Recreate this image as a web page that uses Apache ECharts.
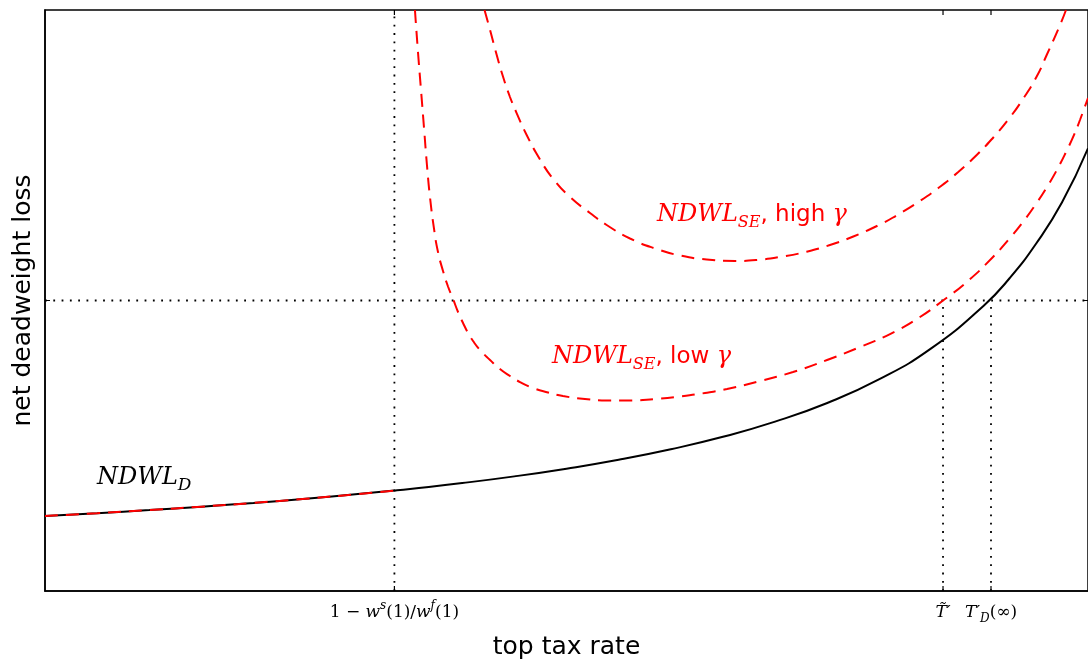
<!DOCTYPE html>
<html>
<head>
<meta charset="utf-8">
<script src="https://cdn.jsdelivr.net/npm/echarts@6/dist/echarts.min.js"></script>
<style>
  html, body { margin: 0; padding: 0; background: #fff; }
  #chart { width: 1088px; height: 664px; }
</style>
</head>
<body>
<div id="chart"></div>
<script>
// values (x = top tax rate, y = net deadweight loss, both on a 0..1 scale)
const blackX = [0, 0.05, 0.10, 0.15, 0.20, 0.25, 0.30, 0.335, 0.35, 0.40, 0.45, 0.50, 0.55, 0.60, 0.65, 0.70, 0.75, 0.80, 0.85, 0.90, 0.925, 0.95, 0.975, 1.0]
const blackY = [0.1291, 0.1340, 0.1393, 0.1452, 0.1516, 0.1588, 0.1668, 0.1729, 0.1757, 0.1858, 0.1973, 0.2106, 0.2259, 0.2440, 0.2654, 0.2915, 0.3236, 0.3645, 0.4180, 0.4911, 0.5387, 0.5973, 0.6685, 0.7620]

const lowX = [0.3547, 0.3576, 0.3605, 0.3634, 0.3662, 0.3691, 0.3730, 0.3768, 0.3816, 0.3864, 0.3912, 0.3960, 0.4008, 0.4056, 0.4104, 0.4171, 0.4267, 0.4362, 0.4458, 0.4554, 0.4679, 0.4823, 0.4966, 0.5177, 0.5388, 0.5609, 0.5849, 0.6088, 0.6328, 0.6539, 0.6855, 0.7172, 0.7498, 0.7814, 0.8102, 0.8360, 0.8610, 0.8849, 0.9089, 0.9252, 0.9377, 0.9501, 0.9607, 0.9712, 0.9799, 0.9866, 0.9923, 1.0]
const lowY = [1.0, 0.9277, 0.8623, 0.7969, 0.7332, 0.6781, 0.6231, 0.5835, 0.5508, 0.5241, 0.5026, 0.4802, 0.4613, 0.4441, 0.4303, 0.4148, 0.3976, 0.3821, 0.3701, 0.3597, 0.3494, 0.3417, 0.3356, 0.3305, 0.3279, 0.3279, 0.3305, 0.3348, 0.3408, 0.3477, 0.3614, 0.3769, 0.3976, 0.4200, 0.4423, 0.4682, 0.5, 0.5336, 0.5749, 0.6076, 0.6351, 0.6661, 0.6954, 0.7281, 0.7590, 0.7849, 0.8107, 0.8485]

const highX = [0.4214, 0.4267, 0.4331, 0.4391, 0.4458, 0.4523, 0.4618, 0.4739, 0.4873, 0.5034, 0.5225, 0.5385, 0.5609, 0.5865, 0.6088, 0.6344, 0.6616, 0.6824, 0.7047, 0.7303, 0.7526, 0.7750, 0.8006, 0.8166, 0.8373, 0.8565, 0.8756, 0.8933, 0.9092, 0.9236, 0.9380, 0.9508, 0.9604, 0.9732, 0.9789]
const highY = [1.0, 0.9656, 0.9225, 0.8855, 0.8503, 0.8222, 0.7849, 0.7448, 0.7091, 0.6781, 0.6506, 0.6299, 0.6067, 0.5886, 0.5775, 0.5706, 0.5680, 0.5697, 0.5749, 0.5840, 0.5955, 0.6102, 0.6308, 0.6466, 0.6695, 0.6936, 0.7212, 0.7504, 0.7806, 0.8115, 0.8477, 0.8855, 0.9225, 0.9742, 1.0]

// reference lines
const splitX = 0.335   // 1 - w^s(1)/w^f(1)
const tTilde = 0.861
const tD = 0.907
const lossLevel = 0.5
const tickValues = [splitX, tTilde, tD]
// inward tick length as a share of the axis span
const tickLenX = 0.0048
const tickLenY = 0.0088

const pts = (xs, ys) => xs.map((x, i) => [x, ys[i]])
const redLeft = pts(blackX, blackY).filter(p => p[0] <= splitX)

const math = 'DejaVu Serif'
const sans = 'DejaVu Sans'

const dotted = { color: '#000', width: 1.8, type: [1.8, 6.5] }
const dashed = { color: '#ff0000', width: 2, type: [13, 8] }
const tickStyle = { color: '#000', width: 1.2 }

function segment(data, style, z) {
  return { type: 'line', data: data, symbol: 'none', silent: true, z: z, lineStyle: style }
}

function curve(name, data, style, z) {
  return { name: name, type: 'line', data: data, symbol: 'none', smooth: 0.5, z: z, lineStyle: style }
}

// axis ticks pointing into the plot on all four sides
const tickSeries = []
tickValues.forEach(v => {
  tickSeries.push(segment([[v, 0], [v, tickLenY]], tickStyle, 2))
  tickSeries.push(segment([[v, 1], [v, 1 - tickLenY]], tickStyle, 2))
})
tickSeries.push(segment([[0, lossLevel], [tickLenX, lossLevel]], tickStyle, 2))
tickSeries.push(segment([[1, lossLevel], [1 - tickLenX, lossLevel]], tickStyle, 2))

function mathRich(color, size, subSize, sansSize) {
  return {
    i: { fontFamily: math, fontStyle: 'italic', fontSize: size, color: color, fill: color, lineHeight: size + 8, verticalAlign: 'middle' },
    n: { fontFamily: math, fontSize: size, color: color, fill: color, lineHeight: size + 8, verticalAlign: 'middle' },
    sub: { fontFamily: math, fontStyle: 'italic', fontSize: subSize, color: color, fill: color, lineHeight: size + 8, verticalAlign: 'bottom' },
    sup: { fontFamily: math, fontStyle: 'italic', fontSize: subSize, color: color, fill: color, lineHeight: size + 8, verticalAlign: 'top' },
    s: { fontFamily: sans, fontSize: sansSize, color: color, fill: color, lineHeight: size + 8, verticalAlign: 'middle' }
  }
}

const chart = echarts.init(document.getElementById('chart'))
chart.setOption({
  animation: false,
  backgroundColor: '#fff',
  grid: {
    left: 45, right: 0, top: 10, bottom: 73,
    outerBoundsMode: 'none', containLabel: false,
    show: true, borderColor: '#000', borderWidth: 1.5, backgroundColor: 'transparent'
  },
  xAxis: {
    type: 'value', min: 0, max: 1, position: 'bottom',
    name: 'top tax rate', nameLocation: 'middle', nameGap: 44,
    nameTextStyle: { fontFamily: sans, fontSize: 25, color: '#000' },
    axisLine: { show: true, lineStyle: { color: '#000', width: 1.5 } },
    splitLine: { show: false },
    axisTick: { show: false },
    axisLabel: {
      customValues: tickValues, margin: 9,
      formatter: function (v) {
        if (Math.abs(v - splitX) < 1e-6) return '{n|1 − }{i|w}{sup|s}{n|(1)/}{i|w}{sup|f}{n|(1)}'
        if (Math.abs(v - tTilde) < 1e-6) return '{i|T\u0303\u2032}'
        return '{i|T\u2032}{sub|D}{n|(∞)}'
      },
      rich: mathRich('#000', 17, 12, 17)
    }
  },
  yAxis: {
    type: 'value', min: 0, max: 1, position: 'left',
    name: 'net deadweight loss', nameLocation: 'middle', nameGap: 9,
    nameTextStyle: { fontFamily: sans, fontSize: 25, color: '#000' },
    axisLine: { show: true, lineStyle: { color: '#000', width: 1.5 } },
    splitLine: { show: false }, axisLabel: { show: false },
    axisTick: { show: false }
  },
  series: [
    segment([[splitX, 0], [splitX, 1]], dotted, 1),
    segment([[tTilde, 0], [tTilde, lossLevel]], dotted, 1),
    segment([[tD, 0], [tD, lossLevel]], dotted, 1),
    segment([[0, lossLevel], [1, lossLevel]], dotted, 1),
    ...tickSeries,
    curve('NDWL_D', pts(blackX, blackY), { color: '#000', width: 2 }, 3),
    curve('NDWL_SE left', redLeft, dashed, 4),
    curve('NDWL_SE low', pts(lowX, lowY), dashed, 4),
    curve('NDWL_SE high', pts(highX, highY), dashed, 4)
  ],
  graphic: [
    {
      type: 'text', left: 97, top: 466, z: 10,
      style: { text: '{i|NDWL}{sub|D}', rich: mathRich('#000', 24, 17, 22) }
    },
    {
      type: 'text', left: 657, top: 203, z: 10,
      style: { text: '{i|NDWL}{sub|SE}{s|, high }{i|γ}', rich: mathRich('#ff0000', 24, 16, 23) }
    },
    {
      type: 'text', left: 552, top: 345, z: 10,
      style: { text: '{i|NDWL}{sub|SE}{s|, low }{i|γ}', rich: mathRich('#ff0000', 24, 16, 23) }
    }
  ]
})
</script>
</body>
</html>
